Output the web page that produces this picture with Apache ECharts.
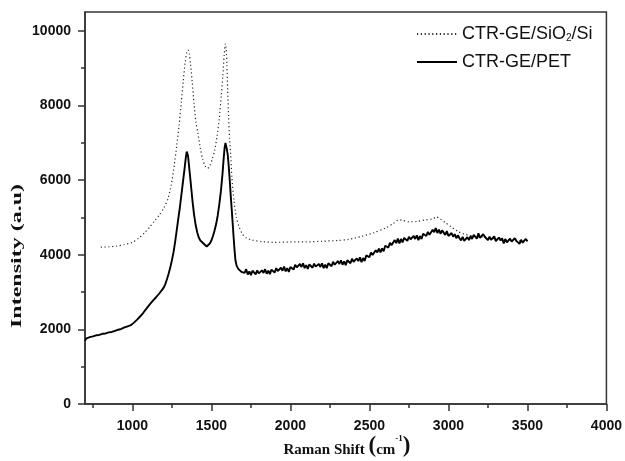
<!DOCTYPE html>
<html>
<head>
<meta charset="utf-8">
<script src="https://cdn.jsdelivr.net/npm/echarts@6/dist/echarts.min.js"></script>
<style>
  html, body { margin: 0; padding: 0; background: #fff; }
  #chart { width: 625px; height: 461px; }
</style>
</head>
<body>
<div id="chart"></div>
<script>
// Raman spectra of CTR-GE films on two substrates
const seriesNames = ['CTR-GE/SiO2/Si', 'CTR-GE/PET'];

// CTR-GE on SiO2/Si (dotted trace)
const shiftSi = [800, 850, 900, 950, 1000, 1040, 1080, 1110, 1140, 1170, 1200, 1225, 1245, 1265, 1280, 1295, 1310, 1322, 1334, 1344, 1352, 1360, 1368, 1378, 1390, 1402, 1415, 1430, 1445, 1460, 1475, 1490, 1505, 1520, 1535, 1550, 1562, 1572, 1581, 1589, 1593, 1598, 1603, 1609, 1615, 1622, 1630, 1643, 1658, 1675, 1695, 1720, 1760, 1820, 1900, 2000, 2100, 2200, 2300, 2370, 2450, 2530, 2600, 2650, 2685, 2710, 2750, 2800, 2850, 2900, 2925, 2950, 2980, 3020, 3060, 3100, 3150, 3200, 3300, 3400, 3500];
const intensitySi = [4200, 4210, 4230, 4270, 4330, 4440, 4600, 4740, 4900, 5060, 5260, 5500, 5850, 6400, 6900, 7450, 8100, 8650, 9150, 9420, 9480, 9380, 9100, 8650, 8050, 7550, 7250, 6850, 6550, 6380, 6310, 6380, 6560, 6780, 7150, 7650, 8250, 8750, 9350, 9650, 9550, 9100, 8400, 7700, 7100, 6700, 6050, 5450, 5000, 4750, 4560, 4450, 4390, 4350, 4330, 4340, 4340, 4360, 4380, 4410, 4490, 4590, 4710, 4830, 4930, 4920, 4880, 4890, 4930, 4960, 5010, 4950, 4860, 4740, 4620, 4550, 4500, 4480, 4420, 4380, 4360];

// CTR-GE on PET (solid trace, noisy detector signal)
const shiftPet = [700, 710, 720, 730, 740, 750, 760, 770, 780, 790, 800, 810, 820, 830, 840, 850, 860, 870, 880, 890, 900, 910, 920, 930, 940, 950, 960, 970, 980, 990,
  1000, 1010, 1020, 1030, 1040, 1050, 1060, 1070, 1080, 1090, 1100, 1110, 1120, 1130, 1140, 1150, 1160, 1170, 1180, 1190, 1200, 1210, 1220, 1230, 1240, 1250, 1260, 1270, 1280, 1290,
  1300, 1310, 1320, 1330, 1338, 1344, 1348, 1352, 1358, 1365, 1372, 1380, 1390, 1400, 1410, 1420, 1430, 1440, 1450, 1460, 1470, 1476, 1482, 1490, 1500, 1510, 1520, 1530, 1540, 1550,
  1560, 1570, 1578, 1584, 1589, 1593, 1598, 1604, 1610, 1616, 1622, 1628, 1634, 1640, 1646, 1652, 1660, 1670, 1680, 1690,
  1700, 1710, 1720, 1730, 1740, 1750, 1760, 1770, 1780, 1790, 1800, 1810, 1820, 1830, 1840, 1850, 1860, 1870, 1880, 1890, 1900, 1910, 1920, 1930, 1940, 1950, 1960, 1970, 1980, 1990,
  2000, 2010, 2020, 2030, 2040, 2050, 2060, 2070, 2080, 2090, 2100, 2110, 2120, 2130, 2140, 2150, 2160, 2170, 2180, 2190, 2200, 2210, 2220, 2230, 2240, 2250, 2260, 2270, 2280, 2290,
  2300, 2310, 2320, 2330, 2340, 2350, 2360, 2370, 2380, 2390, 2400, 2410, 2420, 2430, 2440, 2450, 2460, 2470, 2480, 2490, 2500, 2510, 2520, 2530, 2540, 2550, 2560, 2570, 2580, 2590,
  2600, 2610, 2620, 2630, 2640, 2650, 2660, 2670, 2680, 2690, 2700, 2710, 2720, 2730, 2740, 2750, 2760, 2770, 2780, 2790, 2800, 2810, 2820, 2830, 2840, 2850, 2860, 2870, 2880, 2890,
  2900, 2910, 2920, 2930, 2940, 2950, 2960, 2970, 2980, 2990, 3000, 3010, 3020, 3030, 3040, 3050, 3060, 3070, 3080, 3090, 3100, 3110, 3120, 3130, 3140, 3150, 3160, 3170, 3180, 3190,
  3200, 3210, 3220, 3230, 3240, 3250, 3260, 3270, 3280, 3290, 3300, 3310, 3320, 3330, 3340, 3350, 3360, 3370, 3380, 3390, 3400, 3410, 3420, 3430, 3440, 3450, 3460, 3470, 3480, 3490, 3500];
const intensityPet = [1700, 1760, 1730, 1790, 1750, 1810, 1770, 1840, 1800, 1850, 1810, 1880, 1840, 1890, 1850, 1920, 1870, 1930, 1890, 1960, 1920, 1990, 1950, 2010, 1980, 2050, 2010, 2080, 2050, 2110,
  2100, 2180, 2170, 2260, 2250, 2350, 2350, 2450, 2450, 2560, 2560, 2670, 2670, 2770, 2770, 2860, 2860, 2960, 2970, 3070, 3130, 3230, 3360, 3500, 3660, 3850, 4060, 4330, 4640, 4950,
  5250, 5600, 5950, 6300, 6600, 6760, 6740, 6650, 6400, 6100, 5800, 5450, 5080, 4800, 4600, 4460, 4380, 4330, 4300, 4260, 4220, 4200, 4240, 4300, 4380, 4500, 4650, 4820, 5050, 5350,
  5700, 6150, 6600, 6880, 6990, 6960, 6820, 6650, 6350, 6000, 5600, 5250, 4880, 4500, 4150, 3850, 3700, 3620, 3580, 3540,
  3590, 3510, 3610, 3470, 3550, 3450, 3570, 3540, 3470, 3580, 3500, 3460, 3580, 3510, 3610, 3490, 3570, 3480, 3600, 3580, 3520, 3640, 3560, 3520, 3650, 3570, 3680, 3550, 3640, 3540,
  3670, 3650, 3600, 3730, 3660, 3630, 3750, 3670, 3770, 3640, 3720, 3620, 3740, 3710, 3650, 3760, 3680, 3630, 3750, 3670, 3770, 3640, 3730, 3640, 3770, 3740, 3690, 3810, 3730, 3690,
  3830, 3750, 3850, 3730, 3820, 3720, 3850, 3830, 3770, 3890, 3810, 3760, 3900, 3830, 3930, 3800, 3910, 3830, 3980, 3970, 3930, 4060, 3990, 3960, 4120, 4060, 4160, 4060, 4170, 4090,
  4240, 4230, 4190, 4320, 4250, 4220, 4390, 4310, 4430, 4300, 4420, 4330, 4450, 4430, 4370, 4480, 4410, 4370, 4500, 4420, 4520, 4390, 4500, 4420, 4560, 4550, 4500, 4610, 4530, 4540,
  4670, 4600, 4710, 4580, 4670, 4560, 4650, 4610, 4530, 4630, 4500, 4460, 4580, 4480, 4550, 4440, 4520, 4440, 4380, 4480, 4370, 4340, 4470, 4390, 4500, 4420, 4530, 4490, 4430, 4570,
  4450, 4400, 4550, 4480, 4520, 4390, 4480, 4400, 4380, 4490, 4360, 4360, 4460, 4380, 4440, 4300, 4420, 4330, 4310, 4430, 4350, 4300, 4440, 4370, 4410, 4290, 4400, 4320, 4300, 4420, 4360];

// Axis ticks
const xMajorTicks = [1000, 1500, 2000, 2500, 3000, 3500, 4000];
const xMinorTicks = [750, 1250, 1750, 2250, 2750, 3250, 3750];
const yMajorTicks = [0, 2000, 4000, 6000, 8000, 10000];
const yMinorTicks = [1000, 3000, 5000, 7000, 9000];

const pairs = (xs, ys) => xs.map((x, i) => [x, ys[i]]);

const axisColor = '#333';
const tickFont = {
  fontFamily: 'Liberation Sans', fontWeight: 'bold', fontSize: 14, color: '#111',
  formatter: v => String(v)
};

const chart = echarts.init(document.getElementById('chart'), null, { renderer: 'canvas' });

chart.setOption({
  animation: false,
  backgroundColor: '#fff',
  grid: {
    left: 85, right: 15, top: 12, bottom: 57,
    show: true, borderColor: axisColor, borderWidth: 1.5, backgroundColor: 'transparent'
  },
  legend: {
    orient: 'vertical',
    left: 411, top: 20,
    itemWidth: 40, itemHeight: 14, itemGap: 10,
    data: seriesNames,
    itemStyle: { opacity: 0 },
    formatter: name => name === 'CTR-GE/SiO2/Si' ? 'CTR-GE/SiO{sub|2}/Si' : name,
    textStyle: {
      fontFamily: 'Liberation Sans', fontSize: 18, color: '#111',
      rich: { sub: { fontFamily: 'Liberation Sans', fontSize: 10, color: '#111', verticalAlign: 'bottom', padding: [6, 0, 0, 0] } }
    }
  },
  xAxis: [{
    type: 'value', min: 700, max: 4000,
    splitLine: { show: false },
    axisLine: { show: true, lineStyle: { color: axisColor, width: 1.5 } },
    axisTick: { show: true, customValues: xMajorTicks, length: 7, lineStyle: { color: axisColor, width: 1.5 } },
    axisLabel: Object.assign({ customValues: xMajorTicks, margin: 15 }, tickFont)
  }, {
    type: 'value', min: 700, max: 4000, position: 'bottom',
    splitLine: { show: false },
    axisLine: { show: false },
    axisTick: { show: true, customValues: xMinorTicks, length: 4, lineStyle: { color: axisColor, width: 1.5 } },
    axisLabel: { show: false }
  }],
  yAxis: [{
    type: 'value', min: 0, max: 10500,
    splitLine: { show: false },
    axisLine: { show: true, lineStyle: { color: axisColor, width: 1.5 } },
    axisTick: { show: true, customValues: yMajorTicks, length: 7, lineStyle: { color: axisColor, width: 1.5 } },
    axisLabel: Object.assign({ customValues: yMajorTicks, margin: 14 }, tickFont)
  }, {
    type: 'value', min: 0, max: 10500, position: 'left',
    splitLine: { show: false },
    axisLine: { show: false },
    axisTick: { show: true, customValues: yMinorTicks, length: 4, lineStyle: { color: axisColor, width: 1.5 } },
    axisLabel: { show: false }
  }],
  series: [{
    name: seriesNames[0],
    type: 'line',
    data: pairs(shiftSi, intensitySi),
    showSymbol: false, symbol: 'none',
    smooth: 0.25,
    lineStyle: { color: '#2a2a2a', width: 1.2, type: [1.2, 2.6] },
    itemStyle: { color: '#2a2a2a' },
    z: 3
  }, {
    name: seriesNames[1],
    type: 'line',
    data: pairs(shiftPet, intensityPet),
    showSymbol: false, symbol: 'none',
    lineStyle: { color: '#000', width: 1.9 },
    itemStyle: { color: '#000' },
    z: 4
  }],
  graphic: [{
    type: 'text',
    x: 347, y: 446,
    style: {
      text: '{a|Raman Shift }{p|(}{a|cm}{s|-1}{p|)}',
      align: 'center', verticalAlign: 'middle',
      rich: {
        a: { fontFamily: 'Liberation Serif', fontWeight: 'bold', fontSize: 15, fill: '#111', verticalAlign: 'bottom' },
        p: { fontFamily: 'Liberation Serif', fontWeight: 'bold', fontSize: 23, fill: '#111', verticalAlign: 'bottom' },
        s: { fontFamily: 'Liberation Serif', fontWeight: 'bold', fontSize: 9, fill: '#111', verticalAlign: 'top' }
      }
    }
  }, {
    type: 'text',
    x: 17, y: 256,
    rotation: Math.PI / 2,
    scaleX: 1.6,
    style: {
      text: 'Intensity (a.u)',
      font: 'bold 15px "Liberation Serif"',
      fill: '#111',
      align: 'center', verticalAlign: 'middle'
    }
  }]
});
</script>
</body>
</html>
